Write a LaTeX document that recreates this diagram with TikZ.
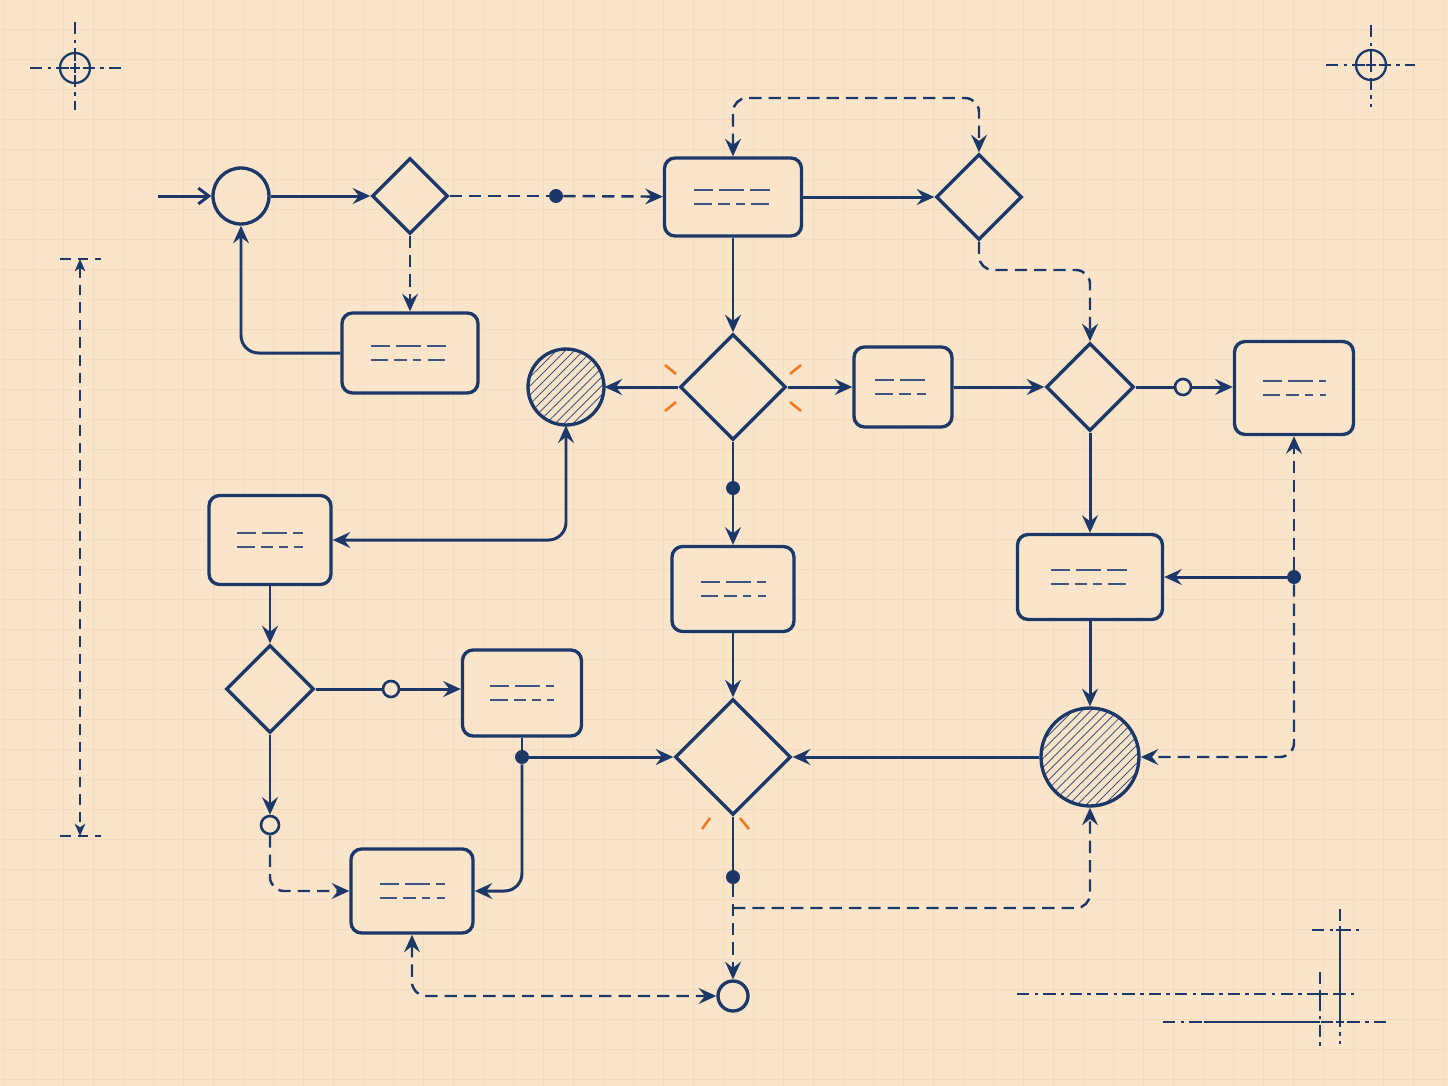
\documentclass[tikz,border=0pt]{standalone}
\usepackage{tikz}
\usetikzlibrary{arrows.meta}
\usetikzlibrary{patterns.meta}
\usetikzlibrary{shapes.geometric}

\definecolor{ink}{HTML}{1B3868}
\definecolor{paper}{HTML}{FAE5CB}
\definecolor{gridline}{HTML}{F3DAC0}
\definecolor{flare}{HTML}{F27B1F}

\newcommand{\textlines}[2]{%
  \draw[scribble, dash pattern=on 11pt off 3.5pt on 14pt off 3.5pt on 11pt off 3.5pt]
    ([shift={(-#2/2,-7)}]#1.center) -- ([shift={(#2/2,-7)}]#1.center);
  \draw[scribble, dash pattern=on 10pt off 3.5pt on 7pt off 3.5pt on 5pt off 3.5pt on 10pt off 3.5pt]
    ([shift={(-#2/2,7)}]#1.center) -- ([shift={(#2/2,7)}]#1.center);
}

\begin{document}
\begin{tikzpicture}
  [
    x = 0.02cm, y = -0.02cm,
    > = {Stealth[length=10pt, width=9pt, inset=3.5pt]},
    box/.style = {draw = ink, line width = 1.9pt, rectangle, rounded corners = 6pt,
                  fill = paper, inner sep = 0pt},
    gate/.style = {draw = ink, line width = 1.9pt, diamond, aspect = 1,
                   fill = paper, inner sep = 0pt},
    event/.style = {draw = ink, line width = 1.9pt, circle, fill = paper,
                    inner sep = 0pt, minimum size = 1.12cm},
    hatched/.style = {event, pattern = {Lines[angle=45, distance=3.6pt, line width=0.5pt]},
                      pattern color = ink!85},
    dot/.style = {circle, fill = ink, inner sep = 0pt, minimum size = 0.28cm},
    ring/.style = {circle, draw = ink, line width = 1.5pt, fill = paper,
                   inner sep = 0pt, minimum size = 0.32cm},
    flow/.style = {draw = ink, line width = 1.7pt},
    dashflow/.style = {flow, line width = 1.4pt, dash pattern = on 7pt off 4pt},
    scribble/.style = {draw = ink!85, line width = 0.9pt},
    spark/.style = {draw = flare, line width = 1.5pt},
    regline/.style = {draw = ink, line width = 0.9pt, dash pattern = on 7pt off 3pt on 2pt off 3pt},
    dimline/.style = {draw = ink, line width = 1pt, dash pattern = on 6pt off 4pt,
                      > = {Stealth[length=7pt, width=6pt, inset=2pt]}},
  ]

  \useasboundingbox[fill = paper] (0,0) rectangle (1448,1086);
  \foreach \gx in {3,33,...,1443}
    \draw[gridline, line width = 0.5pt] (\gx,0) -- (\gx,1086);
  \foreach \gy in {29,59,...,1079}
    \draw[gridline, line width = 0.5pt] (0,\gy) -- (1448,\gy);

  % registration marks and dimension
  \draw[regline] (30,68) -- (123,68);
  \draw[regline] (75,22) -- (75,110);
  \draw[ink, line width = 1.3pt] (75,68) circle[radius = 15];
  \draw[ink, line width = 1pt] (70,68) -- (80,68) (75,63) -- (75,73);
  \draw[regline] (1326,65) -- (1415,65);
  \draw[regline] (1371,25) -- (1371,107);
  \draw[ink, line width = 1.3pt] (1371,65) circle[radius = 15];
  \draw[ink, line width = 1pt] (1366,65) -- (1376,65) (1371,60) -- (1371,70);

  \draw[dimline, <->] (80,259) -- (80,836);
  \draw[dimline] (60,259) -- (101,259);
  \draw[dimline] (60,836) -- (101,836);

  \draw[regline] (1017,994) -- (1357,994);
  \draw[regline] (1163,1022) -- (1386,1022);
  \draw[ink, line width = 1.2pt] (1204,1022) -- (1320,1022);
  \draw[regline] (1320,972) -- (1320,1047);
  \draw[regline] (1340,909) -- (1340,1044);
  \draw[ink, line width = 1.2pt] (1340,930) -- (1340,1022);
  \draw[regline] (1312,930) -- (1359,930);
  \foreach \cx/\cy in {1340/930, 1320/994, 1340/994, 1340/1022}
    \draw[ink, line width = 1pt] (\cx-4,\cy) -- (\cx+4,\cy) (\cx,\cy-4) -- (\cx,\cy+4);

  % nodes
  \coordinate (entry) at (158,196);
  \node[event] (start) at (241,196) {};
  \node[gate, minimum size = 1.52cm] (d1) at (410,196) {};
  \node[dot] (j1) at (556,196) {};
  \node[box, minimum width = 2.74cm, minimum height = 1.56cm] (b1) at (733,197) {};
  \node[gate, minimum size = 1.72cm] (d2) at (979,197) {};
  \node[box, minimum width = 2.72cm, minimum height = 1.6cm] (b2) at (410,353) {};
  \coordinate (loop) at (855,98);
  \coordinate (bend) at (1035,270);

  \node[gate, minimum size = 2.12cm] (d4) at (733,387) {};
  \node[hatched, minimum size = 1.52cm] (c1) at (566,387) {};
  \node[box, minimum width = 1.96cm, minimum height = 1.6cm] (b3) at (903,387) {};
  \node[gate, minimum size = 1.76cm] (d3) at (1090,387) {};
  \node[ring] (r1) at (1183,387) {};
  \node[box, minimum width = 2.38cm, minimum height = 1.86cm] (b4) at (1294,388) {};

  \node[dot] (j3) at (733,488) {};
  \node[box, minimum width = 2.44cm, minimum height = 1.7cm] (b6) at (733,589) {};
  \node[box, minimum width = 2.9cm, minimum height = 1.7cm] (b5) at (1090,577) {};
  \node[dot] (j2) at (1294,577) {};
  \node[hatched, minimum size = 1.96cm] (c2) at (1090,757) {};
  \node[gate, minimum size = 2.32cm] (d5) at (733,757) {};
  \node[dot] (j4) at (733,877) {};
  \coordinate (split) at (733,908);
  \node[event, minimum size = 0.6cm] (stop) at (733,996) {};

  \node[box, minimum width = 2.44cm, minimum height = 1.78cm] (b7) at (270,540) {};
  \node[gate, minimum size = 1.76cm] (d6) at (270,689) {};
  \node[ring] (r2) at (391,689) {};
  \node[box, minimum width = 2.38cm, minimum height = 1.72cm] (b8) at (522,693) {};
  \node[dot] (j5) at (522,757) {};
  \node[ring, minimum size = 0.36cm] (r3) at (270,825) {};
  \node[box, minimum width = 2.44cm, minimum height = 1.68cm] (b9) at (412,891) {};

  \textlines{b1}{78}
  \textlines{b2}{79}
  \textlines{b3}{56}
  \textlines{b4}{63}
  \textlines{b5}{78}
  \textlines{b6}{65}
  \textlines{b7}{66}
  \textlines{b8}{64}
  \textlines{b9}{65}

  % connectors
  \draw[flow, -{Straight Barb[length=6pt, width=9pt]}] (entry) -- (start);
  \draw[flow, ->] (start) -- (d1);
  \draw[dashflow] (d1) -- (j1);
  \draw[dashflow, ->] (j1) -- (b1);
  \draw[dashflow, ->] (d1) -- (b2);
  \draw[flow, ->, rounded corners = 10pt] (b2.west) -| (start.south);
  \draw[flow, ->] (b1) -- (d2);
  \draw[dashflow, <->, rounded corners = 8pt] (b1.north) |- (loop) -| (d2.north);
  \draw[dashflow, ->, rounded corners = 8pt] (d2.south) |- (bend) -| (d3.north);

  \draw[flow, ->] (b1) -- (d4);
  \draw[flow, ->] (d4) -- (c1);
  \draw[flow, ->] (d4) -- (b3);
  \draw[flow, ->] (b3) -- (d3);
  \draw[flow] (d3) -- (r1);
  \draw[flow, ->] (r1) -- (b4.west |- r1);
  \draw[flow, ->] (d3) -- (b5);
  \draw[flow, ->] (j2) -- (b5);
  \draw[dashflow, ->] (j2) -- (b4);
  \draw[dashflow, ->, rounded corners = 8pt] (j2) |- (c2);
  \draw[flow, ->] (b5) -- (c2);
  \draw[flow, ->] (c2) -- (d5);

  \draw[flow] (d4) -- (j3);
  \draw[flow, ->] (j3) -- (b6);
  \draw[flow, ->] (b6) -- (d5);
  \draw[flow] (d5) -- (j4);
  \draw[dashflow, ->] (j4) -- (stop);
  \draw[dashflow, ->, rounded corners = 8pt] (split) -| (c2.south);

  \draw[flow, <->, rounded corners = 10pt] (c1.south) |- (b7.east);
  \draw[flow, ->] (b7) -- (d6);
  \draw[flow] (d6) -- (r2);
  \draw[flow, ->] (r2) -- (b8.west |- r2);
  \draw[flow, ->] (d6) -- (r3);
  \draw[dashflow, ->, rounded corners = 8pt] (r3.south) |- (b9.west);
  \draw[flow] (b8) -- (j5);
  \draw[flow, ->] (j5) -- (d5);
  \draw[flow, ->, rounded corners = 10pt] (j5) |- (b9.east);
  \draw[dashflow, <->, rounded corners = 8pt] (b9.south) |- (stop.west);

  % flare ticks
  \draw[spark] (665,365) -- (676,374);
  \draw[spark] (665,411) -- (676,402);
  \draw[spark] (801,365) -- (790,374);
  \draw[spark] (801,411) -- (790,402);
  \draw[spark] (710,818) -- (702,829);
  \draw[spark] (740,818) -- (749,829);

\end{tikzpicture}
\end{document}
